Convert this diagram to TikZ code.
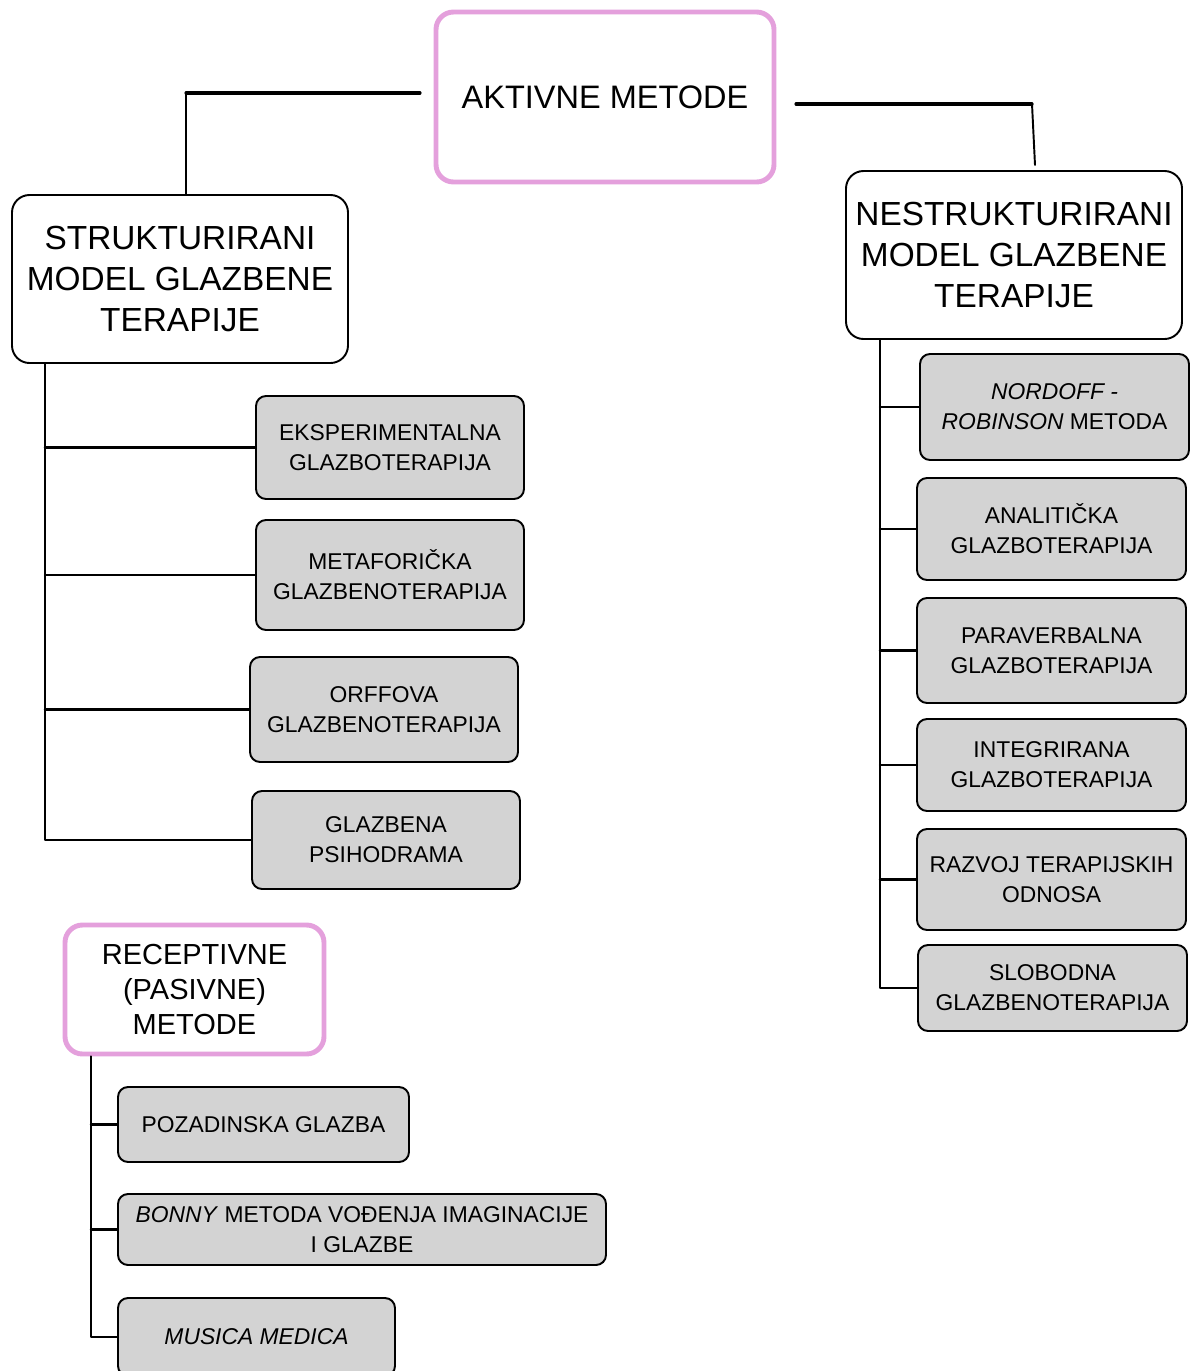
\documentclass[tikz,border=0pt]{standalone}
\usepackage{fontspec}
\setmainfont{Liberation Sans}
\definecolor{pinkline}{HTML}{E4A0DC}
\definecolor{boxgray}{HTML}{D3D3D3}
\begin{document}
\begin{tikzpicture}[line join=round, line cap=round,
	topbox/.style={draw=pinkline, line width=2.8pt, fill=white, rounded corners=0.35cm, align=center, inner sep=2pt, font=\fontsize{18.5}{22}\selectfont},
	modelbox/.style={draw=black, line width=1.1pt, fill=white, rounded corners=0.35cm, align=center, inner sep=2pt, minimum width=6.72cm, minimum height=3.36cm, font=\fontsize{19}{23.5}\selectfont},
	methodbox/.style={draw=black, line width=1.1pt, fill=boxgray, rounded corners=0.2cm, align=center, inner sep=2pt, font=\fontsize{13}{17}\selectfont},
	link/.style={line width=1.4pt}]
	\clip (0,0) rectangle (23.84,-27.42);
	\node[topbox, minimum width=6.76cm, minimum height=3.4cm] (aktiv) at (12.10,-1.94) {AKTIVNE METODE};
	\node[modelbox] (struk) at (3.60,-5.58) {STRUKTURIRANI\\MODEL GLAZBENE\\TERAPIJE};
	\node[modelbox] (nestruk) at (20.28,-5.10) {NESTRUKTURIRANI\\MODEL GLAZBENE\\TERAPIJE};
	\node[methodbox, minimum width=5.36cm, minimum height=2.06cm] (eksp) at (7.80,-8.95) {EKSPERIMENTALNA\\GLAZBOTERAPIJA};
	\node[methodbox, minimum width=5.36cm, minimum height=2.20cm] (metaf) at (7.80,-11.50) {METAFORIČKA\\GLAZBENOTERAPIJA};
	\node[methodbox, minimum width=5.36cm, minimum height=2.10cm] (orff) at (7.68,-14.19) {ORFFOVA\\GLAZBENOTERAPIJA};
	\node[methodbox, minimum width=5.36cm, minimum height=1.96cm] (psiho) at (7.72,-16.80) {GLAZBENA\\PSIHODRAMA};
	\node[methodbox, minimum width=5.38cm, minimum height=2.12cm] (nordoff) at (21.09,-8.14) {\textit{NORDOFF -}\\\textit{ROBINSON} METODA};
	\node[methodbox, minimum width=5.38cm, minimum height=2.04cm] (analit) at (21.03,-10.58) {ANALITIČKA\\GLAZBOTERAPIJA};
	\node[methodbox, minimum width=5.38cm, minimum height=2.10cm] (paraverb) at (21.03,-13.01) {PARAVERBALNA\\GLAZBOTERAPIJA};
	\node[methodbox, minimum width=5.38cm, minimum height=1.84cm] (integr) at (21.03,-15.30) {INTEGRIRANA\\GLAZBOTERAPIJA};
	\node[methodbox, minimum width=5.38cm, minimum height=2.02cm] (razvoj) at (21.03,-17.59) {RAZVOJ TERAPIJSKIH\\ODNOSA};
	\node[methodbox, minimum width=5.38cm, minimum height=1.72cm] (slobod) at (21.05,-19.76) {SLOBODNA\\GLAZBENOTERAPIJA};
	\node[topbox, minimum width=5.18cm, minimum height=2.58cm, font=\fontsize{16.5}{20}\selectfont] (recep) at (3.89,-19.79) {RECEPTIVNE\\(PASIVNE)\\METODE};
	\node[methodbox, minimum width=5.82cm, minimum height=1.50cm] (pozad) at (5.27,-22.49) {POZADINSKA GLAZBA};
	\node[methodbox, minimum width=9.76cm, minimum height=1.42cm] (bonny) at (7.24,-24.59) {\textit{BONNY} METODA VOĐENJA IMAGINACIJE\\I GLAZBE};
	\node[methodbox, minimum width=5.54cm, minimum height=1.56cm] (musica) at (5.13,-26.74) {\textit{MUSICA MEDICA}};
	\coordinate (aL) at (8.40,-1.86);
	\coordinate (aLc) at (3.72,-1.86);
	\coordinate (aR) at (15.92,-2.08);
	\coordinate (aRc) at (20.64,-2.08);
	\coordinate (aRe) at (20.70,-3.30);
	\coordinate (trunkL) at (0.90,0);
	\coordinate (trunkR) at (17.60,0);
	\coordinate (trunkB) at (1.82,0);
	\draw[line width=1.8pt] (aL)--(aLc) (aR)--(aRc);
	\draw[line width=1.1pt] (aLc)--(aLc |- struk.north) (aRc)--(aRe);
	\draw[link] (struk.south -| trunkL) |- (psiho.west);
	\draw[link] (eksp.west)--(eksp.west -| trunkL) (metaf.west)--(metaf.west -| trunkL) (orff.west)--(orff.west -| trunkL);
	\draw[link] (nestruk.south -| trunkR) |- (slobod.west);
	\draw[link] (nordoff.west)--(nordoff.west -| trunkR) (analit.west)--(analit.west -| trunkR) (paraverb.west)--(paraverb.west -| trunkR) (integr.west)--(integr.west -| trunkR) (razvoj.west)--(razvoj.west -| trunkR);
	\draw[link] (recep.south -| trunkB) |- (musica.west);
	\draw[link] (pozad.west)--(pozad.west -| trunkB) (bonny.west)--(bonny.west -| trunkB);
\end{tikzpicture}
\end{document}
